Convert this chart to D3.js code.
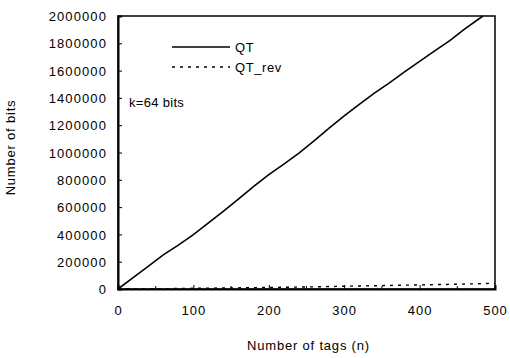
<!DOCTYPE html>
<html>
<head>
<meta charset="utf-8">
<script src="https://cdn.jsdelivr.net/npm/d3@7"></script>
<style>
  body { margin: 0; background: #fff; }
  text { font-family: "Liberation Sans", Arial, sans-serif; fill: #000; }
</style>
</head>
<body>
<div id="chart"></div>
<script>
// data
let tagsQT = [0, 20, 40, 60, 80, 100, 120, 140, 160, 180, 200, 220, 240, 260, 280, 300, 320, 340, 360, 380, 400, 420, 440, 460, 484];
let bitsQT = [0, 83000, 166000, 250000, 322000, 398000, 485000, 570000, 660000, 752000, 838000, 915000, 995000, 1085000, 1178000, 1268000, 1352000, 1435000, 1510000, 1590000, 1668000, 1745000, 1820000, 1905000, 2000000];
let tagsRev = [0, 50, 100, 150, 200, 250, 300, 350, 400, 450, 500];
let bitsRev = [0, 2000, 5000, 8000, 11000, 15000, 20000, 25000, 30000, 35000, 42000];
let xTicks = [0, 100, 200, 300, 400, 500];
let xMinor = [50, 150, 250, 350, 450];
let yTicks = [0, 200000, 400000, 600000, 800000, 1000000, 1200000, 1400000, 1600000, 1800000, 2000000];
let seriesNames = ["QT", "QT_rev"];

let margin = {top: 16, right: 15, bottom: 69, left: 118};
let fullWidth = 510, fullHeight = 358;
let width = fullWidth - margin.left - margin.right;
let height = fullHeight - margin.top - margin.bottom;

let svg = d3.select("#chart").append("svg")
    .attr("width", fullWidth)
    .attr("height", fullHeight);

let g = svg.append("g")
    .attr("transform", "translate(" + margin.left + "," + margin.top + ")");

let x = d3.scaleLinear().domain([0, 500]).range([0, width]);
let y = d3.scaleLinear().domain([0, 2000000]).range([height, 0]);

// frame
g.append("rect")
    .attr("width", width).attr("height", height)
    .attr("fill", "none").attr("stroke", "#000").attr("stroke-width", 1.5);

// y axis
let yAxis = g.append("g")
    .call(d3.axisLeft(y).tickValues(yTicks).tickSize(-4).tickPadding(11).tickFormat(d3.format("d")));
yAxis.select(".domain").attr("stroke-width", 2);
yAxis.selectAll("text").style("font-size", "13px").style("letter-spacing", "1.1px").attr("dy", "0.36em");

// x axis
let xAxis = g.append("g")
    .attr("transform", "translate(0," + height + ")")
    .call(d3.axisBottom(x).tickValues(xTicks).tickSize(-4).tickPadding(17));
xAxis.select(".domain").attr("stroke-width", 2);
xAxis.selectAll("text").style("font-size", "13px").style("letter-spacing", "1px");
xAxis.selectAll(".minor").data(xMinor).enter().append("line")
    .attr("class", "minor")
    .attr("x1", d => x(d)).attr("x2", d => x(d))
    .attr("y1", 0).attr("y2", -3)
    .attr("stroke", "#000");

// lines
let lineQT = d3.line().x((d, i) => x(tagsQT[i])).y(d => y(d));
g.append("path").datum(bitsQT)
    .attr("d", lineQT)
    .attr("fill", "none").attr("stroke", "#000").attr("stroke-width", 1.6);

let lineRev = d3.line().x((d, i) => x(tagsRev[i])).y(d => y(d));
g.append("path").datum(bitsRev)
    .attr("d", lineRev)
    .attr("fill", "none").attr("stroke", "#000").attr("stroke-width", 1.4)
    .attr("stroke-dasharray", "3,5");

// legend
let legend = g.selectAll(".legend").data(seriesNames).enter().append("g")
    .attr("class", "legend")
    .attr("transform", (d, i) => "translate(54," + (31 + i * 20) + ")");
legend.append("line")
    .attr("x1", 0).attr("x2", 58)
    .attr("stroke", "#000").attr("stroke-width", 1.5)
    .attr("stroke-dasharray", (d, i) => i ? "3,5" : null);
legend.append("text")
    .attr("x", 63).attr("dy", "0.36em")
    .style("font-size", "13px").style("letter-spacing", "0.6px")
    .text(d => d);

g.append("text")
    .attr("x", 11).attr("y", 86).attr("dy", "0.36em")
    .style("font-size", "13px").style("letter-spacing", "0.3px")
    .text("k=64 bits");

// axis titles
svg.append("text")
    .attr("x", margin.left + width / 2 + 2).attr("y", 350)
    .attr("text-anchor", "middle")
    .style("font-size", "13px").style("letter-spacing", "0.8px")
    .text("Number of tags (n)");

svg.append("text")
    .attr("transform", "translate(15," + (margin.top + height / 2 - 5) + ") rotate(-90)")
    .attr("text-anchor", "middle")
    .style("font-size", "13px").style("letter-spacing", "0.8px")
    .text("Number of bits");
</script>
</body>
</html>
